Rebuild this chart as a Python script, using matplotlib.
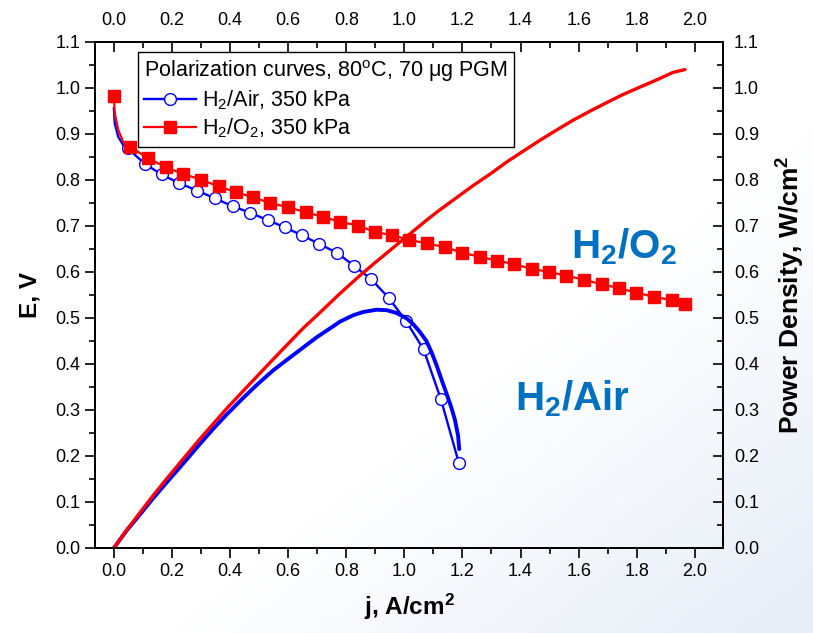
import matplotlib
matplotlib.use("Agg")
import matplotlib.pyplot as plt
import numpy as np
from matplotlib.ticker import MultipleLocator
from matplotlib.colors import LinearSegmentedColormap

plt.rcParams['font.family'] = ['Liberation Sans', 'DejaVu Sans']
plt.rcParams['mathtext.fontset'] = 'custom'
plt.rcParams['mathtext.rm'] = 'Liberation Sans'
plt.rcParams['mathtext.bf'] = 'Liberation Sans:bold'
plt.rcParams['mathtext.it'] = 'Liberation Sans:italic'

# H2/Air polarization curve (j in A/cm2, E in V)
air_j = [0.000, 0.003, 0.015, 0.032, 0.047, 0.107, 0.164, 0.225, 0.287, 0.348,
         0.409, 0.468, 0.529, 0.589, 0.647, 0.707, 0.767, 0.826, 0.886, 0.946,
         1.006, 1.066, 1.126, 1.188]
air_E = [0.956, 0.923, 0.894, 0.876, 0.869, 0.835, 0.812, 0.793, 0.777, 0.760,
         0.743, 0.729, 0.713, 0.697, 0.680, 0.661, 0.642, 0.614, 0.584, 0.544,
         0.493, 0.432, 0.323, 0.184]
air_marks = list(range(4, len(air_j)))

# H2/O2 polarization curve
o2_j = [0.000, 0.003, 0.015, 0.032, 0.057, 0.118, 0.179, 0.239, 0.299, 0.361,
        0.419, 0.480, 0.539, 0.599, 0.660, 0.720, 0.778, 0.841, 0.898, 0.958,
        1.017, 1.079, 1.139, 1.200, 1.260, 1.318, 1.378, 1.438, 1.499, 1.558,
        1.620, 1.680, 1.740, 1.799, 1.859, 1.921, 1.966]
o2_E = [0.983, 0.945, 0.909, 0.883, 0.872, 0.847, 0.828, 0.813, 0.801, 0.786,
        0.774, 0.762, 0.750, 0.741, 0.730, 0.720, 0.709, 0.701, 0.687, 0.680,
        0.670, 0.662, 0.654, 0.642, 0.633, 0.625, 0.617, 0.607, 0.600, 0.592,
        0.583, 0.573, 0.565, 0.555, 0.546, 0.539, 0.531]
o2_marks = [0] + list(range(4, len(o2_j)))

# power density curves (W/cm2)
air_pj = [0.0, 0.044, 0.090, 0.135, 0.181, 0.239, 0.296, 0.342, 0.388, 0.440,
          0.491, 0.548, 0.606, 0.652, 0.698, 0.755, 0.778, 0.824, 0.858, 0.904,
          0.939, 0.973, 1.008, 1.030, 1.053, 1.076, 1.094, 1.111, 1.128, 1.145,
          1.162, 1.174, 1.185, 1.189]
air_p = [0.0, 0.038, 0.073, 0.108, 0.142, 0.184, 0.226, 0.259, 0.290, 0.323,
         0.354, 0.386, 0.414, 0.436, 0.458, 0.482, 0.492, 0.506, 0.513, 0.518,
         0.517, 0.511, 0.499, 0.487, 0.470, 0.450, 0.425, 0.397, 0.366, 0.336,
         0.305, 0.279, 0.244, 0.215]
o2_pj = [0.0, 0.044, 0.090, 0.135, 0.181, 0.239, 0.296, 0.342, 0.388, 0.440,
         0.491, 0.548, 0.606, 0.652, 0.698, 0.778, 0.841, 0.893, 0.958, 1.008,
         1.079, 1.122, 1.200, 1.237, 1.300, 1.352, 1.410, 1.466, 1.520, 1.581,
         1.640, 1.696, 1.750, 1.811, 1.870, 1.925, 1.966]
o2_p = [0.0, 0.039, 0.077, 0.114, 0.150, 0.194, 0.237, 0.270, 0.303, 0.338,
        0.372, 0.410, 0.448, 0.478, 0.505, 0.553, 0.589, 0.617, 0.651, 0.677,
        0.714, 0.735, 0.771, 0.788, 0.815, 0.839, 0.863, 0.886, 0.907, 0.930,
        0.950, 0.968, 0.985, 1.002, 1.018, 1.034, 1.040]

W, H = 813, 633
fig = plt.figure(figsize=(W / 100, H / 100), dpi=100)

# faint blue background shading towards the bottom right
bg = fig.add_axes([0, 0, 1, 1], zorder=-10)
xx, yy = np.meshgrid(np.linspace(0, 1, 200), np.linspace(0, 1, 200))
shade = np.clip((xx + yy - 1.2) / 0.8, 0, 1)
cmap = LinearSegmentedColormap.from_list('bg', ['#ffffff', '#e6edf7'])
bg.imshow(shade, cmap=cmap, aspect='auto', extent=[0, 1, 0, 1], origin='upper')
bg.axis('off')

ax = fig.add_axes([95 / W, 1 - 548 / H, 628 / W, 506 / H])
ax.set_facecolor('none')
axr = ax.twinx()
axr.set_facecolor('none')

ax.plot(air_j, air_E, color='#0000ff', lw=1.7, marker='o', ms=8.5,
        mfc='white', mec='#0000ff', mew=1.0, markevery=air_marks,
        label='H$_2$/Air, 350 kPa')
ax.plot(o2_j, o2_E, color='#ff0000', lw=1.6, marker='s', ms=8,
        mfc='#ff0000', mec='#ff0000', markevery=o2_marks,
        label='H$_2$/O$_2$, 350 kPa')

axr.plot(air_pj, air_p, color='#0000ff', lw=2.8, solid_capstyle='round',
         solid_joinstyle='round')
axr.plot(o2_pj, o2_p, color='#ff0000', lw=2.4, solid_capstyle='round',
         solid_joinstyle='round')

for a in (ax, axr):
    a.set_xlim(-0.065, 2.097)
    a.set_ylim(0, 1.1)
    for s in a.spines.values():
        s.set_linewidth(1.3)

ax.xaxis.set_major_locator(MultipleLocator(0.2))
ax.xaxis.set_minor_locator(MultipleLocator(0.1))
ax.yaxis.set_major_locator(MultipleLocator(0.1))
ax.yaxis.set_minor_locator(MultipleLocator(0.05))
axr.yaxis.set_major_locator(MultipleLocator(0.1))
axr.yaxis.set_minor_locator(MultipleLocator(0.05))

ax.tick_params(which='major', direction='out', length=7.5, width=1.2,
               labelsize=13, pad=3)
ax.tick_params(which='minor', direction='out', length=4, width=1.2)
axr.tick_params(which='major', direction='in', length=7.5, width=1.2,
                labelsize=13, pad=8)
axr.tick_params(which='minor', direction='in', length=4, width=1.2)

axt = ax.secondary_xaxis('top')
axt.xaxis.set_major_locator(MultipleLocator(0.2))
axt.xaxis.set_minor_locator(MultipleLocator(0.1))
axt.tick_params(which='major', direction='in', length=7.5, width=1.2,
                labelsize=13, pad=9)
axt.tick_params(which='minor', direction='in', length=4, width=1.2)
axt.spines['top'].set_linewidth(1.3)

fmt = lambda v, p: '%.1f' % v
ax.xaxis.set_major_formatter(fmt)
ax.yaxis.set_major_formatter(fmt)
axr.yaxis.set_major_formatter(fmt)
axt.xaxis.set_major_formatter(fmt)

ax.set_xlabel(r'j, A/cm$^{\mathbf{2}}$', fontsize=17.5, fontweight='bold',
              labelpad=9)
ax.set_ylabel('E, V', fontsize=17.5, fontweight='bold', labelpad=10)
axr.set_ylabel(r'Power Density, W/cm$^{\mathbf{2}}$', fontsize=19,
               fontweight='bold', labelpad=11)

ax.text(1.573, 0.630, r'H$_\mathbf{2}$/O$_\mathbf{2}$', color='#0070c0',
        fontsize=29, fontweight='bold', va='baseline', ha='left')
ax.text(1.380, 0.300, r'H$_\mathbf{2}$/Air', color='#0070c0',
        fontsize=29, fontweight='bold', va='baseline', ha='left')

h, l = ax.get_legend_handles_labels()
leg = axr.legend(h, l, loc='upper left', bbox_to_anchor=(0.068, 0.980),
                 borderaxespad=0, fontsize=15.5, title_fontsize=15.5,
                 title='Polarization curves, 80$^{\\rm o}$C, 70 \u03bcg PGM',
                 alignment='left', frameon=True, fancybox=False,
                 edgecolor='black', framealpha=1, handlelength=2.4,
                 handletextpad=0.3, labelspacing=0.2, borderpad=0.3)
leg.get_frame().set_linewidth(1.0)

fig.savefig('out.png', dpi=100)
